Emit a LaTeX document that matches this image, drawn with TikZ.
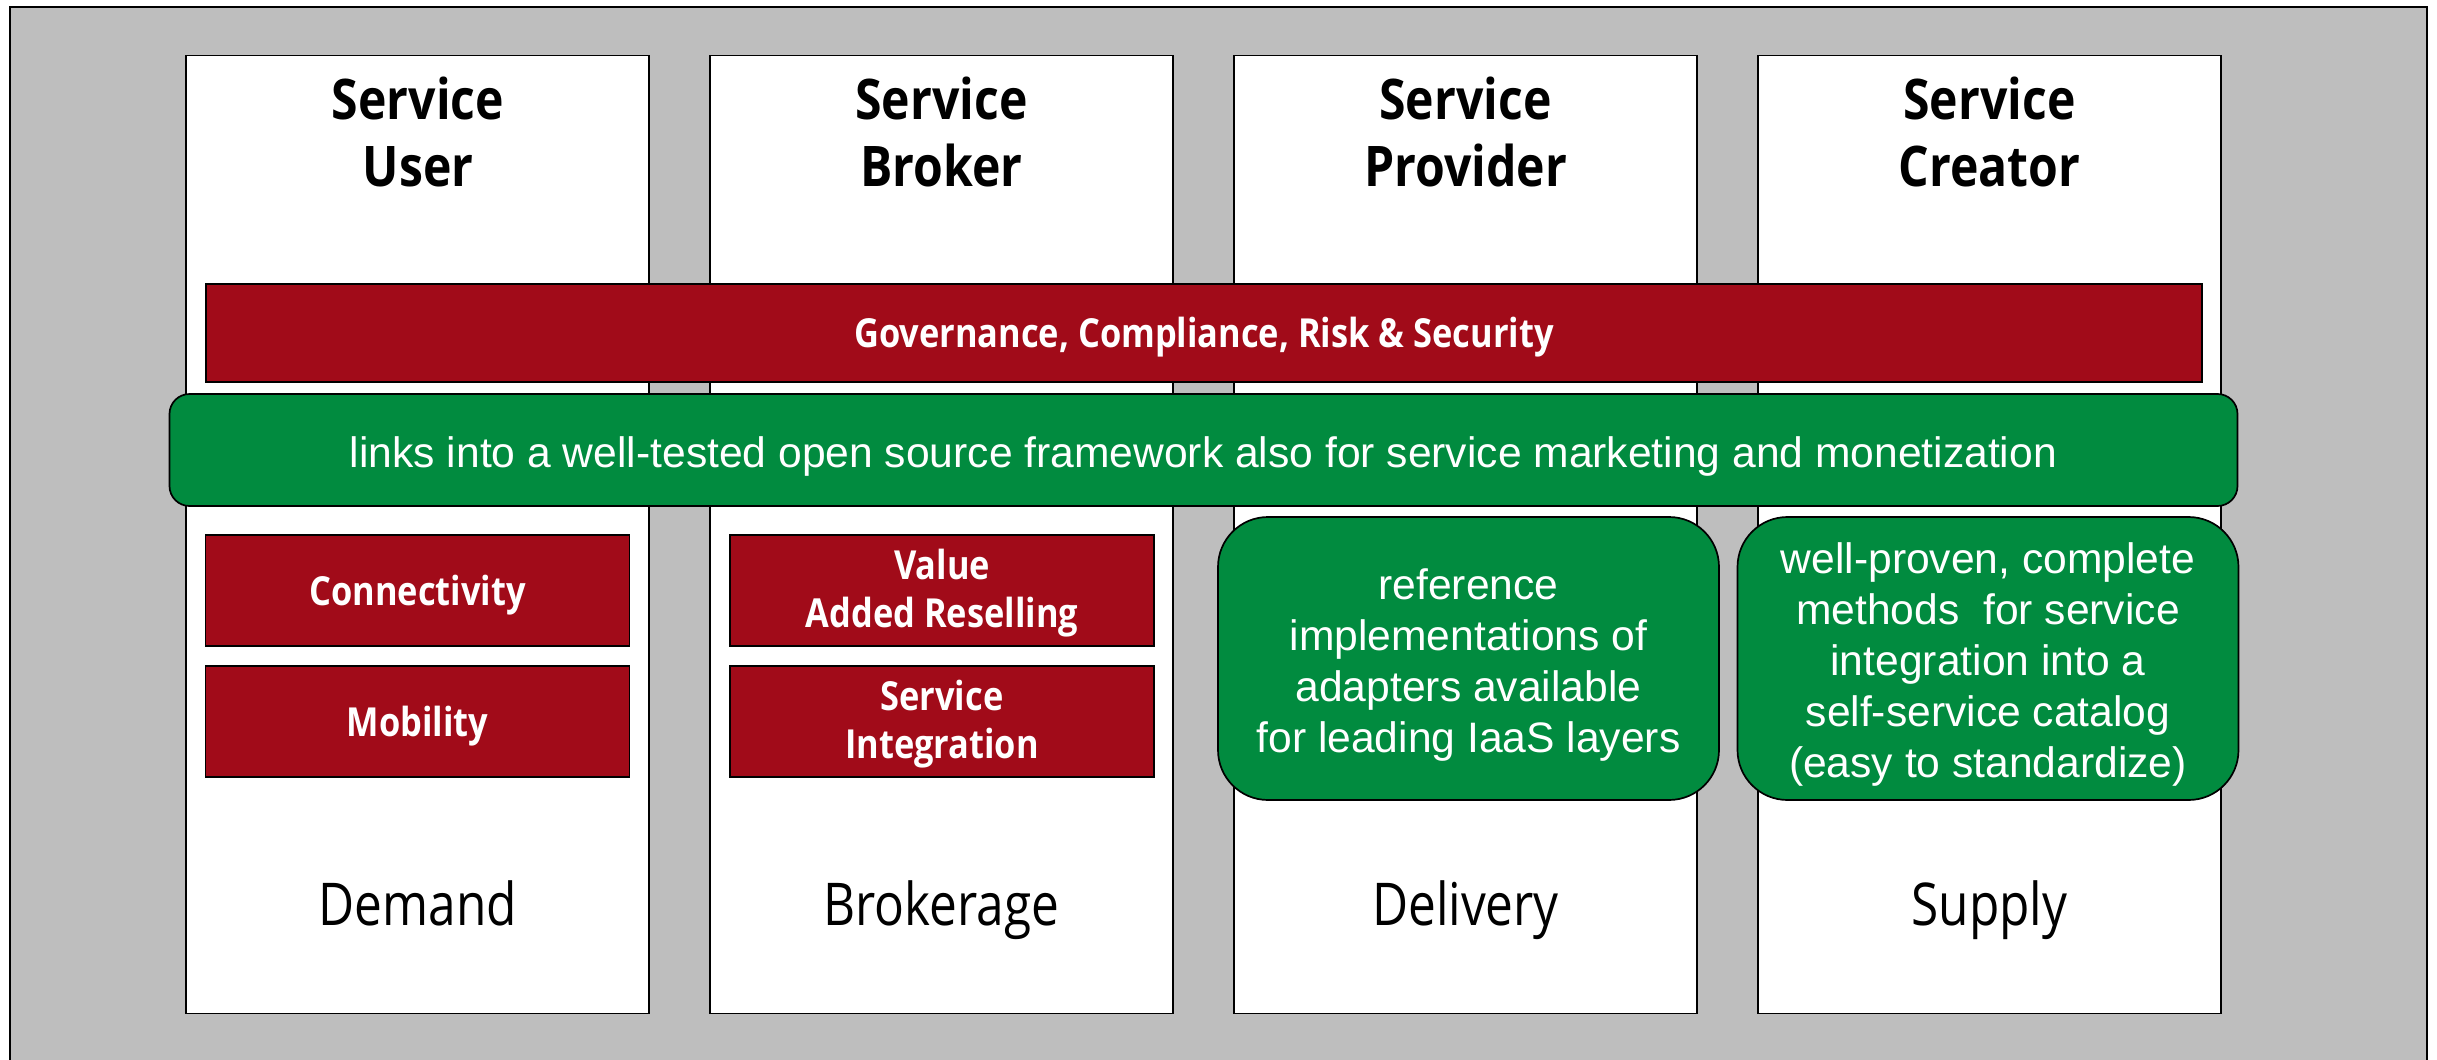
\documentclass[tikz,border=0pt]{standalone}
\usepackage{fontspec}
\setmainfont{Liberation Sans}
\newfontfamily\headfont[FakeStretch=0.86]{Open Sans}
\newfontfamily\lowfont[FakeStretch=0.84]{Open Sans}
\definecolor{fjred}{HTML}{A10B19}
\definecolor{fjgreen}{HTML}{018B3F}
\definecolor{fjgray}{HTML}{BEBEBE}
\tikzset{
 x=1pt,y=-1pt,
 box/.style={draw=black,line width=1.7pt,inner sep=0pt,align=center},
 colbox/.style={box,fill=white,minimum width=463pt,minimum height=958pt},
 redbox/.style={box,fill=fjred},
 redtext/.style={inner sep=0pt,align=center,text=white,font=\headfont\bfseries\fontsize{40}{48}\selectfont},
 smallred/.style={redbox,minimum width=424pt,minimum height=111pt},
 greenbox/.style={box,fill=fjgreen,rounded corners=50pt,minimum width=501pt,minimum height=283pt},
 greentext/.style={inner sep=0pt,align=center,text=white,font=\fontsize{42.6}{51}\selectfont},
 head/.style={inner sep=0pt,align=center,font=\headfont\bfseries\fontsize{56}{67}\selectfont},
 low/.style={inner sep=0pt,anchor=base,font=\lowfont\fontsize{59}{67}\selectfont},
}
\begin{document}
\begin{tikzpicture}
\useasboundingbox (0,0) rectangle (2437,1060);
\fill[white] (0,0) rectangle (2437,1060);
\node[box,fill=fjgray,minimum width=2417pt,minimum height=1100pt,anchor=north west] (bg) at (9,6) {};
\node[colbox] (c1) at (417.5,534.5) {};
\node[colbox] (c2) at (941.5,534.5) {};
\node[colbox] (c3) at (1465.5,534.5) {};
\node[colbox] (c4) at (1989.5,534.5) {};
\node[head] (h1) at (418,131.5) {Service\\User};
\node[head] (h2) at (941.5,131.5) {Service\\Broker};
\node[head] (h3) at (1465.5,131.5) {Service\\Provider};
\node[head] (h4) at (1989.5,131.5) {Service\\Creator};
\node[redbox,minimum width=1996.5pt,minimum height=98pt,label={[redtext,yshift=-4.5pt]center:Governance, Compliance, Risk \& Security}] (gov) at (1204,333) {};
\node[box,fill=fjgreen,rounded corners=20pt,minimum width=2068pt,minimum height=112pt,label={[greentext,yshift=-6pt]center:links into a well-tested open source framework also for service marketing and monetization}] (links) at (1203.5,450) {};
\node[smallred,label={[redtext,yshift=-4.5pt]center:Connectivity}] (r1) at (417.5,590.5) {};
\node[smallred,label={[redtext,yshift=-4.5pt]center:Mobility}] (r2) at (417.5,721.5) {};
\node[smallred,label={[redtext,yshift=-3pt]center:{Value\\Added Reselling}}] (r3) at (942,590.5) {};
\node[smallred,label={[redtext,yshift=-3pt]center:{Service\\Integration}}] (r4) at (942,721.5) {};
\node[greenbox,label={[greentext,yshift=-6pt]center:{reference\\implementations of\\adapters available\\for leading IaaS layers}}] (g1) at (1468.5,658.5) {};
\node[greenbox,label={[greentext,yshift=-6pt]center:{well-proven, complete\\methods\ \ for service\\integration into a\\self-service catalog\\(easy to standardize)}}] (g2) at (1988,658.5) {};
\node[low] (l1) at (418,925.5) {Demand};
\node[low] (l2) at (941.5,925.5) {Brokerage};
\node[low] (l3) at (1465.5,925.5) {Delivery};
\node[low] (l4) at (1989.5,925.5) {Supply};
\end{tikzpicture}
\end{document}
